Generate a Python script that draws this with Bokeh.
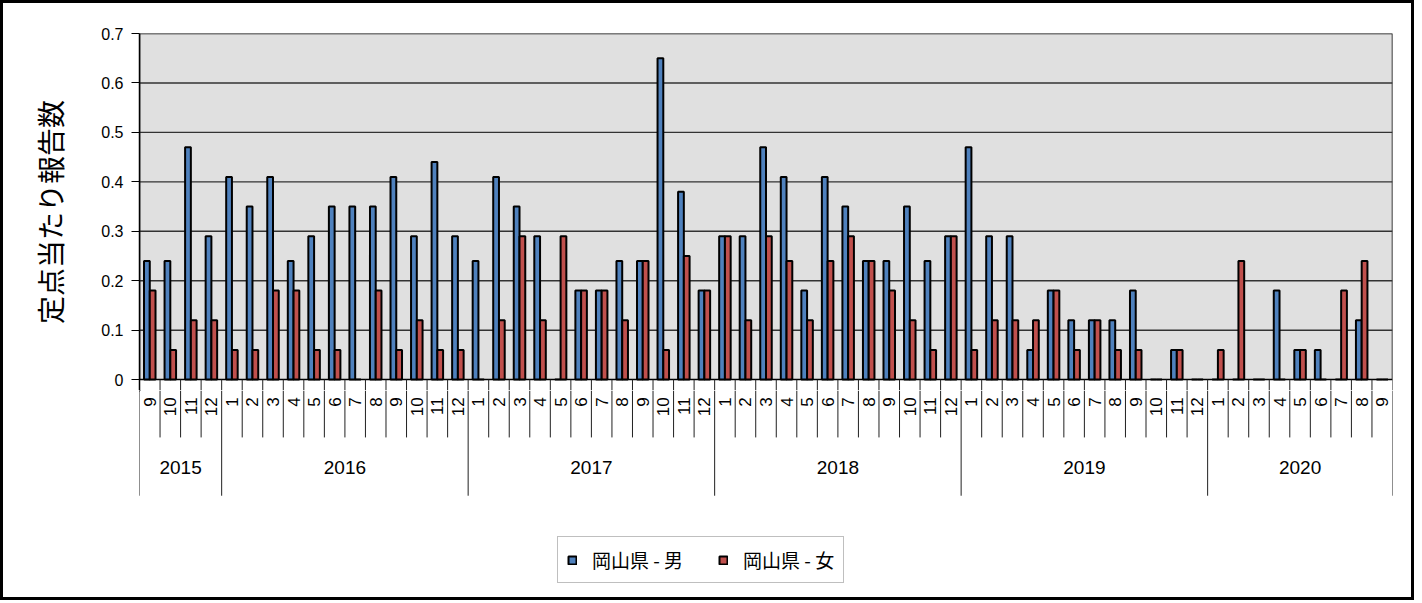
import math
from bokeh.plotting import figure
from bokeh.models import Range1d, FixedTicker, ColumnDataSource, Legend, LegendItem
from bokeh.layouts import column
from bokeh.transform import dodge
from bokeh.core.properties import value
from bokeh.embed import file_html
from bokeh.resources import INLINE

# ---------------- data ----------------
year_labels = ["2015", "2016", "2017", "2018", "2019", "2020"]
months_in_year = [4, 12, 12, 12, 12, 9]
month_labels = (["9", "10", "11", "12"]
                + ["1", "2", "3", "4", "5", "6", "7", "8", "9", "10", "11", "12"]
                + ["1", "2", "3", "4", "5", "6", "7", "8", "9", "10", "11", "12"]
                + ["1", "2", "3", "4", "5", "6", "7", "8", "9", "10", "11", "12"]
                + ["1", "2", "3", "4", "5", "6", "7", "8", "9", "10", "11", "12"]
                + ["1", "2", "3", "4", "5", "6", "7", "8", "9"])
male = [0.24, 0.24, 0.47, 0.29,
        0.41, 0.35, 0.41, 0.24, 0.29, 0.35, 0.35, 0.35, 0.41, 0.29, 0.44, 0.29,
        0.24, 0.41, 0.35, 0.29, 0.00, 0.18, 0.18, 0.24, 0.24, 0.65, 0.38, 0.18,
        0.29, 0.29, 0.47, 0.41, 0.18, 0.41, 0.35, 0.24, 0.24, 0.35, 0.24, 0.29,
        0.47, 0.29, 0.29, 0.06, 0.18, 0.12, 0.12, 0.12, 0.18, 0.00, 0.06, 0.00,
        0.00, 0.00, 0.00, 0.18, 0.06, 0.06, 0.00, 0.12, 0.00]
female = [0.18, 0.06, 0.12, 0.12,
          0.06, 0.06, 0.18, 0.18, 0.06, 0.06, 0.00, 0.18, 0.06, 0.12, 0.06, 0.06,
          0.00, 0.12, 0.29, 0.12, 0.29, 0.18, 0.18, 0.12, 0.24, 0.06, 0.25, 0.18,
          0.29, 0.12, 0.29, 0.24, 0.12, 0.24, 0.29, 0.24, 0.18, 0.12, 0.06, 0.29,
          0.06, 0.12, 0.12, 0.12, 0.18, 0.06, 0.12, 0.06, 0.06, 0.00, 0.06, 0.00,
          0.06, 0.24, 0.00, 0.00, 0.06, 0.00, 0.18, 0.24, 0.00]
y_ticks = [0, 0.1, 0.2, 0.3, 0.4, 0.5, 0.6, 0.7]
series_names = ["岡山県 - 男", "岡山県 - 女"]
y_title = "定点当たり報告数"

BLUE = "#4F81BD"
RED = "#C0504D"
NUM_FONT = "Liberation Sans"
JP_FONT = "Noto Sans CJK JP"

n = len(month_labels)
y_min, y_max = y_ticks[0], y_ticks[-1]
xr = Range1d(0, n)
GAP = -0.022          # small white strip below the baseline inside the top plot
MONTH_LINE = -0.117   # depth of month separators
YEAR_LINE = -0.235    # depth of year separators

src = ColumnDataSource(dict(x=[i + 0.5 for i in range(n)], male=male, female=female,
                            label=month_labels))

year_bounds = [0]
for m in months_in_year:
    year_bounds.append(year_bounds[-1] + m)
month_bounds = [b for b in range(1, n) if b not in year_bounds]
all_bounds = list(range(0, n + 1))

# ---------------- top plot (bars) ----------------
p = figure(width=1408, height=387, x_range=xr, y_range=Range1d(GAP, y_max),
           x_axis_type=None, output_backend="svg", toolbar_location=None, title=None,
           min_border_left=136, min_border_right=19, min_border_top=30, min_border_bottom=0,
           background_fill_color="white", border_fill_color="white",
           outline_line_color=None)

p.yaxis.ticker = FixedTicker(ticks=y_ticks)
p.yaxis.major_label_overrides = {0: "0"}
p.yaxis.minor_tick_line_color = None
p.yaxis.major_tick_in = 0
p.yaxis.major_tick_out = 8
p.yaxis.major_tick_line_color = "black"
p.yaxis.axis_line_color = "black"
p.yaxis.axis_line_width = 1.5
p.yaxis.major_label_text_font = NUM_FONT
p.yaxis.major_label_text_font_size = "16px"
p.yaxis.major_label_text_color = "black"
p.yaxis.major_label_standoff = 8
p.yaxis.axis_label = y_title
p.yaxis.axis_label_text_font = JP_FONT
p.yaxis.axis_label_text_font_size = "28px"
p.yaxis.axis_label_text_font_style = "normal"
p.yaxis.axis_label_text_color = "black"
p.yaxis.axis_label_standoff = 28
p.ygrid.grid_line_color = None

# plot area background with border
p.quad(left=[0], right=[n], bottom=[y_min], top=[y_max], fill_color="#E0E0E0",
       line_color="black", line_width=1.5)
# horizontal gridlines
grid_y = y_ticks[1:-1]
p.segment(x0=[0] * len(grid_y), y0=grid_y, x1=[n] * len(grid_y), y1=grid_y,
          line_color="#333333", line_width=1.4)

p.vbar(x=dodge("x", -0.14, range=xr), top="male", bottom=0, width=0.28, source=src,
       fill_color=BLUE, line_color="black", line_width=2)
p.vbar(x=dodge("x", 0.14, range=xr), top="female", bottom=0, width=0.28, source=src,
       fill_color=RED, line_color="black", line_width=2)

# top part of the category separators
p.segment(x0=all_bounds, y0=[0] * len(all_bounds), x1=all_bounds,
          y1=[GAP] * len(all_bounds), line_color="#202020", line_width=1)

# ---------------- bottom plot (category labels + legend) ----------------
p2 = figure(width=1408, height=207, x_range=xr, y_range=Range1d(-0.441, GAP),
            x_axis_type=None, y_axis_type=None, output_backend="svg",
            toolbar_location=None, title=None,
            min_border_left=136, min_border_right=19, min_border_top=0, min_border_bottom=0,
            background_fill_color="white", border_fill_color="white",
            outline_line_color=None)

p2.segment(x0=month_bounds, y0=[GAP] * len(month_bounds), x1=month_bounds,
           y1=[MONTH_LINE] * len(month_bounds), line_color="#202020", line_width=1)
p2.segment(x0=year_bounds, y0=[GAP] * len(year_bounds), x1=year_bounds,
           y1=[YEAR_LINE] * len(year_bounds), line_color="#202020", line_width=1)

p2.text(x="x", y=-0.036, text="label", source=src, angle=math.pi / 2,
        text_align="right", text_baseline="middle", text_font=value(NUM_FONT),
        text_font_size="17px", text_color="black")

year_centers = [(year_bounds[k] + year_bounds[k + 1]) / 2 for k in range(len(year_labels))]
p2.text(x=year_centers, y=[-0.178] * len(year_labels), text=year_labels,
        text_align="center", text_baseline="middle", text_font=value(NUM_FONT),
        text_font_size="19px", text_color="black")

rb = p2.vbar(x=[-10], top=[0.1], width=0.28, fill_color=BLUE, line_color="black", line_width=2)
rr = p2.vbar(x=[-10], top=[0.1], width=0.28, fill_color=RED, line_color="black", line_width=2)
legend = Legend(items=[LegendItem(label=series_names[0], renderers=[rb]),
                       LegendItem(label=series_names[1], renderers=[rr])],
                orientation="horizontal", location=(418, 14),
                label_text_font=JP_FONT, label_text_font_size="19px",
                label_text_color="black",
                glyph_width=10, glyph_height=10, padding=9, spacing=35,
                label_standoff=15, border_line_color="#808080", border_line_width=1,
                background_fill_color="white", background_fill_alpha=1.0, margin=0)
p2.add_layout(legend)

layout = column(p, p2, spacing=0, styles={"border": "3px solid black"})

open("out.html", "w").write(file_html(layout, INLINE))
